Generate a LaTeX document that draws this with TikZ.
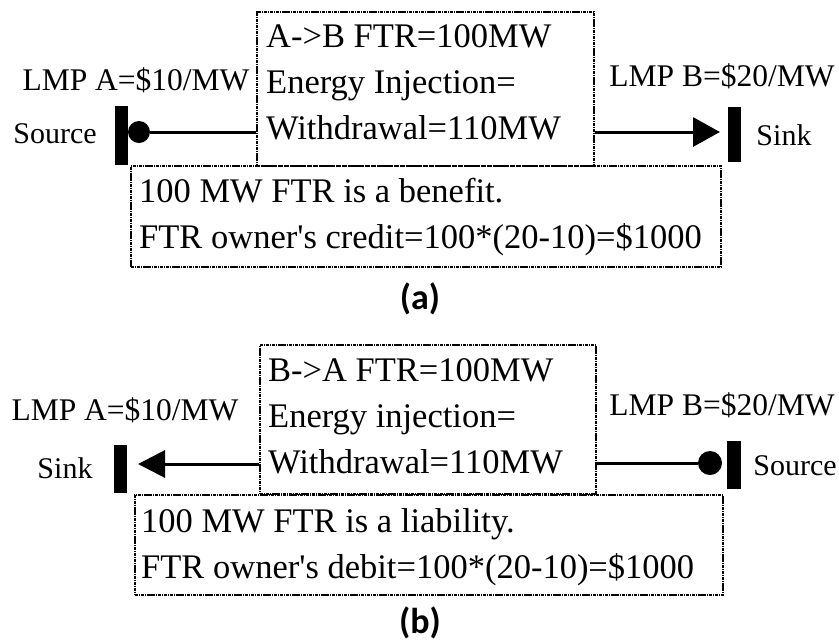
\documentclass[tikz,border=0pt]{standalone}
\usepackage{fontspec}
\setmainfont{Liberation Serif}
\newfontfamily\capfont{Carlito}
\usetikzlibrary{arrows.meta}

\begin{document}
\begin{tikzpicture}[x=1pt,y=-1pt,
        frame/.style={draw, line width=2.4pt, dash pattern=on 3pt off 0.8pt on 1.2pt off 0.8pt, inner sep=0pt},
        boxtext/.style={anchor=north west, inner sep=0pt, align=left, font=\fontsize{34.5}{46}\selectfont},
        lmp/.style={anchor=base, inner sep=0pt, font=\fontsize{31.5}{36}\selectfont},
        side/.style={anchor=base, inner sep=0pt, font=\fontsize{30}{36}\selectfont},
        bar/.style={fill=black, inner sep=0pt, minimum width=13pt},
        dot/.style={circle, fill=black, inner sep=0pt},
        wire/.style={line width=3pt},
        tag/.style={font=\capfont\bfseries\fontsize{36}{40}\selectfont}]
                \useasboundingbox (0,0) rectangle (839,641);

                \draw (425.5,89) node[frame, minimum width=337pt, minimum height=154pt] (topA) {};
                \draw (426,216.5) node[frame, minimum width=590pt, minimum height=101pt] (botA) {};
                \draw (266,24.5) node[boxtext] (txtA) {A->B FTR=100MW\\Energy Injection=\\Withdrawal=110MW};
                \draw (139,178.5) node[boxtext] (noteA) {100 MW FTR is a benefit.\\FTR owner\textquotesingle s credit=100*(20-10)=\$1000};
                \draw (136,90) node[lmp] (lmpA1) {LMP A=\$10/MW};
                \draw (722,86) node[lmp] (lmpB1) {LMP B=\$20/MW};
                \draw (55,143) node[side] (srcA) {Source};
                \draw (784,145) node[side] (snkA) {Sink};
                \draw (121.5,135.5) node[bar, minimum height=59pt] (barA1) {};
                \draw (734.5,134.5) node[bar, minimum height=55pt] (barA2) {};
                \draw (139,132) node[dot, minimum size=22pt] (dotA) {};
                \coordinate (tipA) at (720,132);
                \draw[wire] (dotA) -- (dotA -| topA.west);
                \draw[wire,-{Triangle[length=27pt,width=29pt]}] (topA.east |- tipA) -- (tipA);
                \draw (420,299) node[tag] (capA) {(a)};

                \draw (428,419.5) node[frame, minimum width=336pt, minimum height=149pt] (topB) {};
                \draw (429,545) node[frame, minimum width=588pt, minimum height=100pt] (botB) {};
                \draw (268,358.7) node[boxtext] (txtB) {B->A FTR=100MW\\Energy injection=\\Withdrawal=110MW};
                \draw (141,508.5) node[boxtext] (noteB) {100 MW FTR is a liability.\\FTR owner\textquotesingle s debit=100*(20-10)=\$1000};
                \draw (125,420) node[lmp] (lmpA2) {LMP A=\$10/MW};
                \draw (722,415) node[lmp] (lmpB2) {LMP B=\$20/MW};
                \draw (65,478) node[side] (snkB) {Sink};
                \draw (795,475) node[side] (srcB) {Source};
                \draw (120.5,469) node[bar, minimum height=48pt] (barB1) {};
                \draw (734,465) node[bar, minimum width=14pt, minimum height=48pt] (barB2) {};
                \draw (710,463) node[dot, minimum size=24pt] (dotB) {};
                \coordinate (tipB) at (138,464);
                \draw[wire,-{Triangle[length=27pt,width=27pt]}] (topB.west |- tipB) -- (tipB);
                \draw[wire] (topB.east |- dotB) -- (dotB);
                \draw (420,623) node[tag] (capB) {(b)};
\end{tikzpicture}
\end{document}
